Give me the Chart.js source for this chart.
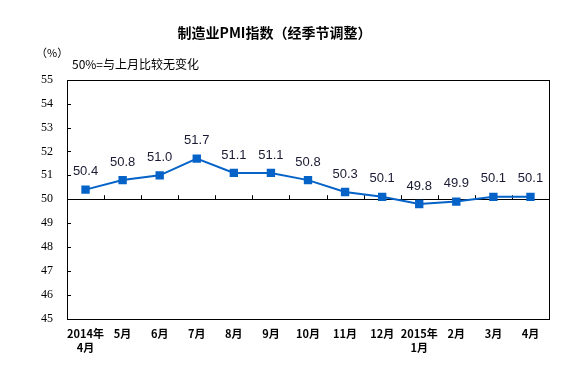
<!DOCTYPE html>
<html>
<head>
<meta charset="utf-8">
<script src="https://cdn.jsdelivr.net/npm/chart.js@4.4.1/dist/chart.umd.min.js"></script>
<style>
    html, body { margin: 0; padding: 0; background: #fff; }
    #wrap { width: 563px; height: 365px; }
</style>
</head>
<body>
<div id="wrap"><canvas id="pmiChart"></canvas></div>
<script>
// labels (2 lines where needed)
const months = [['2014年', '4月'], '5月', '6月', '7月', '8月', '9月', '10月', '11月', '12月', ['2015年', '1月'], '2月', '3月', '4月'];
const pmiValues = [50.4, 50.8, 51.0, 51.7, 51.1, 51.1, 50.8, 50.3, 50.1, 49.8, 49.9, 50.1, 50.1];
const yMin = 45;
const yMax = 55;
const baseLine = 50;

const cjkFont = '"Noto Sans CJK SC", "Noto Sans", sans-serif';

// frame, inward ticks, 50 line, texts
const framePlugin = {
    id: 'frame',
    beforeDatasetsDraw(chart) {
        const ctx = chart.ctx;
        const area = chart.chartArea;
        const x = chart.scales.x;
        const y = chart.scales.y;
        const y50 = y.getPixelForValue(baseLine);

        ctx.save();
        ctx.strokeStyle = '#000';
        ctx.lineWidth = 1;
        ctx.strokeRect(Math.round(area.left) + 0.5, Math.round(area.top) + 0.5,
            Math.round(area.right - area.left), Math.round(area.bottom - area.top));

        ctx.beginPath();
        // y ticks pointing inside
        for (let v = yMin + 1; v < yMax; v++) {
            const py = Math.round(y.getPixelForValue(v)) + 0.5;
            ctx.moveTo(area.left, py);
            ctx.lineTo(area.left + 4, py);
        }
        // 50% line
        ctx.moveTo(area.left, Math.round(y50) + 0.5);
        ctx.lineTo(area.right, Math.round(y50) + 0.5);
        // category separators on the 50 line
        for (let i = 1; i < months.length; i++) {
            const px = Math.round((x.getPixelForValue(i - 1) + x.getPixelForValue(i)) / 2) + 0.5;
            ctx.moveTo(px, y50);
            ctx.lineTo(px, y50 - 4);
        }
        ctx.stroke();

        ctx.fillStyle = '#000';
        ctx.textBaseline = 'middle';
        ctx.textAlign = 'left';
        ctx.font = '11px ' + cjkFont;
        ctx.fillText('（%）', 36, 53);
        ctx.font = '12px ' + cjkFont;
        ctx.fillText('50%=与上月比较无变化', 72, 64);
        ctx.restore();
    },
    afterDatasetsDraw(chart) {
        const ctx = chart.ctx;
        const meta = chart.getDatasetMeta(0);
        ctx.save();
        ctx.fillStyle = '#1a1a33';
        ctx.font = '13px "Liberation Sans", Arial, sans-serif';
        ctx.textAlign = 'center';
        ctx.textBaseline = 'middle';
        meta.data.forEach((pt, i) => {
            ctx.fillText(pmiValues[i].toFixed(1), pt.x, pt.y - 18);
        });
        ctx.restore();
    }
};

const ctx = document.getElementById('pmiChart').getContext('2d');
const chart = new Chart(ctx, {
    type: 'line',
    data: {
        labels: months,
        datasets: [{
            label: '制造业PMI',
            data: pmiValues,
            borderColor: '#0563c8',
            backgroundColor: '#0563c8',
            borderWidth: 2,
            pointStyle: 'rect',
            pointRadius: 4.5,
            pointHoverRadius: 4.5,
            tension: 0
        }]
    },
    options: {
        responsive: true,
        maintainAspectRatio: false,
        animation: false,
        layout: {
            padding: { left: 0, right: 14, top: 0, bottom: 2 }
        },
        plugins: {
            legend: { display: false },
            tooltip: { enabled: false },
            title: {
                display: true,
                text: '制造业PMI指数（经季节调整）',
                color: '#000',
                font: { family: cjkFont, size: 14, weight: 'bold' },
                padding: { top: 24, bottom: 39 }
            }
        },
        scales: {
            x: {
                offset: true,
                grid: { display: false, drawTicks: false },
                border: { display: false },
                ticks: {
                    color: '#000',
                    font: { family: cjkFont, size: 11, weight: 'bold' },
                    autoSkip: false,
                    maxRotation: 0,
                    padding: 9
                }
            },
            y: {
                min: yMin,
                max: yMax,
                grid: { display: false, drawTicks: false },
                border: { display: false },
                afterFit(scale) { scale.width = 67; },
                ticks: {
                    stepSize: 1,
                    color: '#000',
                    padding: 14,
                    font: { family: '"Liberation Serif", "Times New Roman", serif', size: 12 }
                }
            }
        }
    },
    plugins: [framePlugin]
});
</script>
</body>
</html>
